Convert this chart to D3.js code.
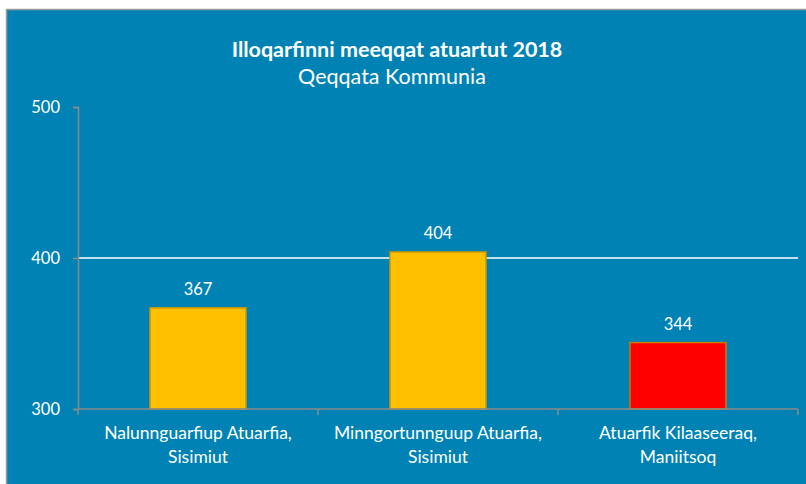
<!DOCTYPE html>
<html>
<head>
<meta charset="utf-8">
<script src="https://cdn.jsdelivr.net/npm/d3@7"></script>
<style>
  html, body { margin: 0; padding: 0; background: #fff; }
  svg { display: block; font-family: Lato, "Open Sans", sans-serif; }
</style>
</head>
<body>
<svg id="chart"></svg>
<script>
// data
const schools = [
    ["Nalunnguarfiup Atuarfia,", "Sisimiut"],
    ["Minngortunnguup Atuarfia,", "Sisimiut"],
    ["Atuarfik Kilaaseeraq,", "Maniitsoq"]
];
const pupils = [367, 404, 344];
const barColors = ["#ffc000", "#ffc000", "#ff0000"];
const barStrokes = ["#c99700", "#c99700", "#c97a00"];
const yTicks = [300, 400, 500];

const titleText = "Illoqarfinni meeqqat atuartut 2018";
const subtitleText = "Qeqqata Kommunia";

const width = 806, height = 484;
const bg = "#0083b4";
const axisColor = "#8a8a8a";

const svg = d3.select("#chart")
    .attr("width", width)
    .attr("height", height);

// panel with thin grey border on top / left
svg.append("rect")
    .attr("x", 6.5).attr("y", 9.5)
    .attr("width", width).attr("height", height)
    .attr("fill", bg)
    .attr("stroke", "#9a9a9a")
    .attr("stroke-width", 1.5);

const x = d3.scaleBand()
    .domain(d3.range(schools.length))
    .range([78, 798])
    .padding(0);

const y = d3.scaleLinear()
    .domain([300, 500])
    .range([409, 107]);

// title
svg.append("text")
    .attr("x", 397).attr("y", 57)
    .attr("text-anchor", "middle")
    .attr("fill", "#fff")
    .style("font-size", "21.5px")
    .style("font-weight", "bold")
    .text(titleText);

svg.append("text")
    .attr("x", 392).attr("y", 84)
    .attr("text-anchor", "middle")
    .attr("fill", "#fff")
    .style("font-size", "21.5px")
    .text(subtitleText);

// gridlines (inner ticks only)
svg.append("g")
    .selectAll("line")
    .data(yTicks.slice(1, -1))
    .join("line")
    .attr("x1", x.range()[0]).attr("x2", x.range()[1])
    .attr("y1", d => y(d)).attr("y2", d => y(d))
    .attr("stroke", "#fff")
    .attr("stroke-width", 1.5);

// bars
const bw = x.bandwidth() * 0.4;
svg.append("g")
    .selectAll("rect")
    .data(pupils)
    .join("rect")
    .attr("x", (d, i) => x(i) + (x.bandwidth() - bw) / 2)
    .attr("y", d => y(d))
    .attr("width", bw)
    .attr("height", d => y(300) - y(d))
    .attr("fill", (d, i) => barColors[i])
    .attr("stroke", (d, i) => barStrokes[i])
    .attr("stroke-width", 1.5);

// value labels
svg.append("g")
    .selectAll("text")
    .data(pupils)
    .join("text")
    .attr("x", (d, i) => x(i) + x.bandwidth() / 2)
    .attr("y", d => y(d) - 13)
    .attr("text-anchor", "middle")
    .attr("fill", "#fff")
    .style("font-size", "16.5px")
    .text(d => d);

// y axis
const yAxis = svg.append("g")
    .attr("transform", `translate(${x.range()[0]},0)`)
    .call(d3.axisLeft(y).tickValues(yTicks).tickSize(5).tickPadding(13).tickFormat(d3.format("d")));
yAxis.select(".domain").attr("stroke", axisColor).attr("stroke-width", 1.5);
yAxis.selectAll(".tick line").attr("stroke", axisColor).attr("stroke-width", 1.5);
yAxis.selectAll(".tick text")
    .attr("fill", "#fff")
    .style("font-size", "16.5px")
    .style("font-family", "Lato, sans-serif");

// x axis
const xAxis = svg.append("g")
    .attr("transform", `translate(0,${y(300)})`);
xAxis.append("line")
    .attr("x1", x.range()[0]).attr("x2", x.range()[1])
    .attr("stroke", axisColor).attr("stroke-width", 1.5);
xAxis.selectAll(".sep")
    .data(d3.range(schools.length + 1))
    .join("line")
    .attr("class", "sep")
    .attr("x1", i => x.range()[0] + i * x.bandwidth())
    .attr("x2", i => x.range()[0] + i * x.bandwidth())
    .attr("y1", 0).attr("y2", 6)
    .attr("stroke", axisColor).attr("stroke-width", 1.5);

const labels = xAxis.selectAll(".cat")
    .data(schools)
    .join("text")
    .attr("class", "cat")
    .attr("text-anchor", "middle")
    .attr("fill", "#fff")
    .style("font-size", "17.5px");
labels.each(function (d, i) {
    const t = d3.select(this);
    d.forEach((line, k) => {
        t.append("tspan")
            .attr("x", x(i) + x.bandwidth() / 2)
            .attr("y", 30 + k * 24)
            .text(line);
    });
});
</script>
</body>
</html>
